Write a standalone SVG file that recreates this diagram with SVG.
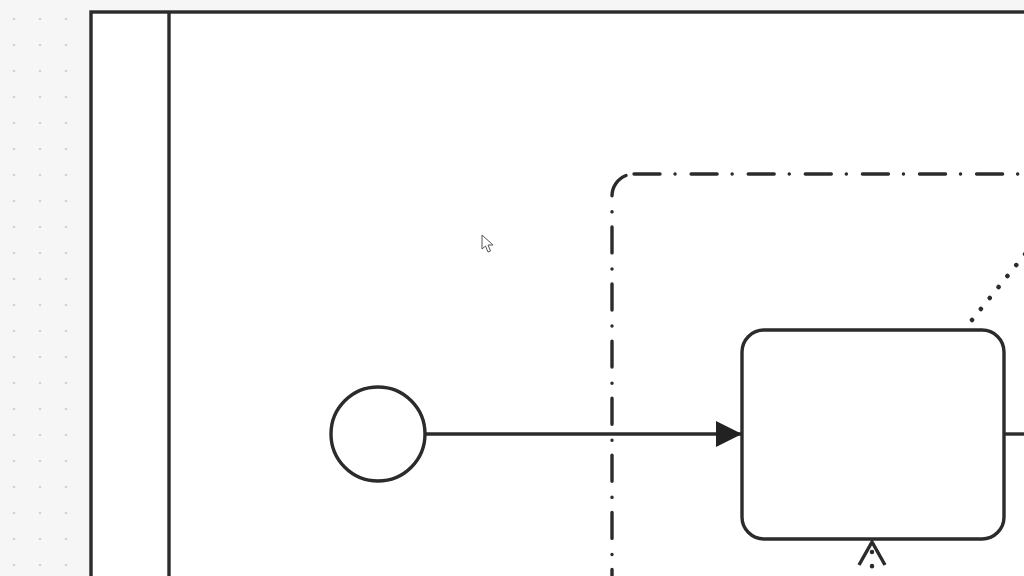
<svg xmlns="http://www.w3.org/2000/svg" width="1024" height="576" viewBox="0 0 1024 576">
  <defs>
    <pattern id="grid" x="1" y="6" width="26" height="26" patternUnits="userSpaceOnUse">
      <circle cx="13" cy="13" r="1.3" fill="#d2d2d2"/>
    </pattern>
    <marker id="arrowFilled" viewBox="0 0 26 26" refX="26" refY="13" markerWidth="26" markerHeight="26" markerUnits="userSpaceOnUse" orient="auto">
      <path d="M0,0 L26,13 L0,26 Z" fill="#222"/>
    </marker>
  </defs>
  <style>
    .stroke { fill: none; stroke: #2b2b2b; stroke-width: 3.4; }
    .shape { fill: #ffffff; stroke: #2b2b2b; stroke-width: 3.4; }
    .group { fill: none; stroke: #2b2b2b; stroke-width: 3.4; stroke-dasharray: 26 15 0.1 16; stroke-linecap: round; }
    .dotted { fill: none; stroke: #2b2b2b; stroke-width: 4.5; stroke-dasharray: 0.1 14; stroke-linecap: round; }
  </style>
  <rect x="0" y="0" width="1024" height="576" fill="#f6f6f6"/>
  <rect x="0" y="0" width="90" height="576" fill="url(#grid)"/>

  <g id="pool">
    <rect class="shape" x="91" y="12" width="960" height="600"/>
    <line class="stroke" x1="169" y1="12" x2="169" y2="576"/>
  </g>

  <g id="group">
    <rect class="group" x="612" y="174" width="500" height="450" rx="22"/>
  </g>

  <g id="connectors">
    <line class="stroke" x1="425" y1="434" x2="742" y2="434" marker-end="url(#arrowFilled)"/>
    <line class="dotted" x1="972" y1="320" x2="1030" y2="248"/>
    <line class="stroke" x1="1004" y1="434" x2="1024" y2="434"/>
    <line class="dotted" x1="872" y1="552" x2="872" y2="590"/>
    <polyline class="stroke" points="859,565 872,542 885,565"/>
  </g>

  <g id="start-event">
    <circle class="shape" cx="378" cy="434" r="47"/>
  </g>

  <g id="task">
    <rect class="shape" x="742" y="330" width="262" height="209" rx="22"/>
  </g>

  <g id="cursor">
    <path d="M482,235 L482,249 L485.5,246 L488,252 L490.5,251 L488,245 L493,245 Z" fill="#ffffff" stroke="#555" stroke-width="1" stroke-linejoin="round"/>
  </g>
</svg>
